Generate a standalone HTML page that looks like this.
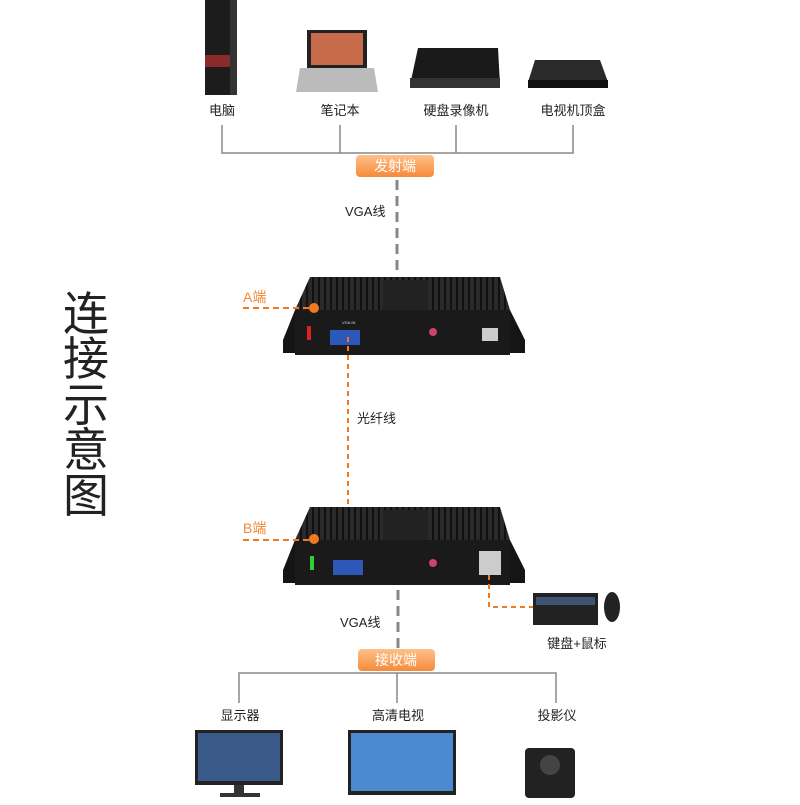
<!DOCTYPE html>
<html><head><meta charset="utf-8"><style>
body{margin:0;background:#fff;}
text{font-family:"Liberation Sans","Noto Sans CJK SC",sans-serif;}
</style></head><body>
<svg width="800" height="800" viewBox="0 0 800 800" xmlns="http://www.w3.org/2000/svg">
<defs>
<linearGradient id="og" x1="0" y1="0" x2="0" y2="1"><stop offset="0" stop-color="#ffc08a"/><stop offset="1" stop-color="#f58a3a"/></linearGradient>
<pattern id="fins" width="6" height="10" patternUnits="userSpaceOnUse"><rect width="6" height="10" fill="#2a2a2a"/><rect width="2" height="10" fill="#111"/></pattern>
</defs>
<!-- top devices -->
<rect x="205" y="0" width="32" height="95" fill="#1c1c1c"/><rect x="205" y="55" width="32" height="12" fill="#8a2a2a"/><rect x="230" y="0" width="7" height="95" fill="#333"/>
<rect x="307" y="30" width="60" height="38" fill="#222"/><rect x="311" y="33" width="52" height="32" fill="#c86b4a"/><polygon points="300,68 374,68 378,92 296,92" fill="#bbb"/>
<polygon points="418,48 498,48 500,85 410,85" fill="#1a1a1a"/><rect x="410" y="78" width="90" height="10" fill="#333"/>
<polygon points="535,60 600,60 608,82 528,82" fill="#2a2a2a"/><rect x="528" y="80" width="80" height="8" fill="#111"/>
<g font-size="13" fill="#222" text-anchor="middle">
<text x="222" y="115">电脑</text><text x="340" y="115">笔记本</text><text x="456" y="115">硬盘录像机</text><text x="573" y="115">电视机顶盒</text></g>
<g stroke="#888" stroke-width="1.5" fill="none">
<path d="M222 125V153H573V125M340 125V153M456 125V153"/></g>
<rect x="356" y="155" width="78" height="22" rx="4" fill="url(#og)"/>
<text x="395" y="171" font-size="14" fill="#fff" text-anchor="middle">发射端</text>
<line x1="397" y1="180" x2="397" y2="272" stroke="#888" stroke-width="3" stroke-dasharray="10,6"/>
<text x="345" y="216" font-size="13" fill="#222">VGA线</text>
<!-- left title -->
<g font-size="46" fill="#222" text-anchor="middle"><text x="86" y="330">连</text><text x="86" y="375">接</text><text x="86" y="421">示</text><text x="86" y="466">意</text><text x="86" y="512">图</text></g>
<!-- device A -->
<polygon points="310,277 500,277 510,310 295,310" fill="url(#fins)"/>
<rect x="383" y="280" width="45" height="30" fill="#222"/>
<polygon points="283,340 295,310 510,310 525,340 525,353 283,353" fill="#151515"/>
<rect x="295" y="310" width="215" height="45" fill="#1a1a1a"/>
<rect x="330" y="330" width="30" height="15" fill="#2d57b8"/>
<text x="342" y="324" font-size="4" fill="#ddd">VGA IN</text>
<circle cx="433" cy="332" r="4" fill="#c46"/><rect x="482" y="328" width="16" height="13" fill="#ccc"/>
<rect x="307" y="326" width="4" height="14" fill="#d22"/>
<line x1="243" y1="308" x2="313" y2="308" stroke="#f07a20" stroke-width="2" stroke-dasharray="6,4"/>
<circle cx="314" cy="308" r="5" fill="#f07a20"/>
<text x="243" y="302" font-size="14" fill="#f08a3a">A端</text>
<line x1="348" y1="337" x2="348" y2="535" stroke="#f07a20" stroke-width="2" stroke-dasharray="5,4"/>
<text x="357" y="423" font-size="13" fill="#222">光纤线</text>
<!-- device B -->
<polygon points="310,507 500,507 510,540 295,540" fill="url(#fins)"/>
<rect x="383" y="510" width="45" height="30" fill="#222"/>
<polygon points="283,570 295,540 510,540 525,570 525,583 283,583" fill="#151515"/>
<rect x="295" y="540" width="215" height="45" fill="#1a1a1a"/>
<rect x="333" y="560" width="30" height="15" fill="#2d57b8"/>
<circle cx="433" cy="563" r="4" fill="#c46"/><rect x="479" y="551" width="22" height="24" fill="#ccc"/>
<rect x="310" y="556" width="4" height="14" fill="#3c3"/>
<line x1="243" y1="540" x2="313" y2="540" stroke="#f07a20" stroke-width="2" stroke-dasharray="6,4"/>
<circle cx="314" cy="539" r="5" fill="#f07a20"/>
<text x="243" y="533" font-size="14" fill="#f08a3a">B端</text>
<path d="M489 575V607H533" stroke="#f07a20" stroke-width="2" stroke-dasharray="5,4" fill="none"/>
<rect x="533" y="593" width="65" height="32" fill="#222"/><rect x="536" y="597" width="59" height="8" fill="#4a6a9a" opacity=".7"/>
<ellipse cx="612" cy="607" rx="8" ry="15" fill="#222"/>
<text x="577" y="648" font-size="13" fill="#222" text-anchor="middle">键盘+鼠标</text>
<line x1="398" y1="590" x2="398" y2="648" stroke="#888" stroke-width="3" stroke-dasharray="10,6"/>
<text x="340" y="627" font-size="13" fill="#222">VGA线</text>
<path d="M239 703V673H556V703M397 673V703" stroke="#888" stroke-width="1.5" fill="none"/>
<rect x="358" y="649" width="77" height="22" rx="4" fill="url(#og)"/>
<text x="396" y="665" font-size="14" fill="#fff" text-anchor="middle">接收端</text>
<g font-size="13" fill="#222" text-anchor="middle"><text x="240" y="720">显示器</text><text x="398" y="720">高清电视</text><text x="557" y="720">投影仪</text></g>
<!-- bottom devices -->
<rect x="195" y="730" width="88" height="55" fill="#222"/><rect x="198" y="733" width="82" height="48" fill="#3a5a8a"/><rect x="234" y="785" width="10" height="10" fill="#333"/><rect x="220" y="793" width="40" height="4" fill="#333"/>
<rect x="348" y="730" width="108" height="65" fill="#222"/><rect x="351" y="733" width="102" height="58" fill="#4a8ad0"/>
<rect x="525" y="748" width="50" height="50" rx="4" fill="#222"/><circle cx="550" cy="765" r="10" fill="#444"/>
</svg>
</body></html>
